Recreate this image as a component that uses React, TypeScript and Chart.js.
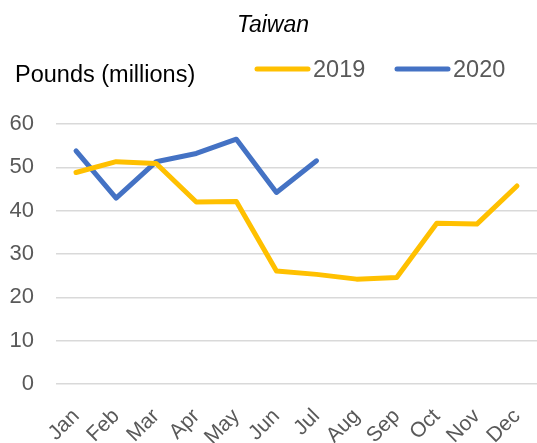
import React, { useEffect, useRef } from "react";
import { Chart, registerables } from "chart.js";

Chart.register(...registerables);

const months = ["Jan", "Feb", "Mar", "Apr", "May", "Jun", "Jul", "Aug", "Sep", "Oct", "Nov", "Dec"];
const series2019 = [48.8, 51.3, 50.9, 42.0, 42.1, 26.1, 25.3, 24.2, 24.6, 37.1, 36.9, 45.7];
const series2020 = [53.8, 42.9, 51.3, 53.2, 56.5, 44.2, 51.5];
const seriesLabels = ["2019", "2020"];
const seriesColors = ["#FFC000", "#4472C4"];
const chartTitle = "Taiwan";
const unitLabel = "Pounds (millions)";

const FONT = '"Liberation Sans", Arial, sans-serif';

const headerPlugin = {
  id: "header",
  afterDraw(chart: any) {
    const ctx = chart.ctx;
    ctx.save();
    ctx.textBaseline = "alphabetic";
    // Title
    ctx.fillStyle = "#000000";
    ctx.font = `italic 23px ${FONT}`;
    ctx.textAlign = "center";
    ctx.fillText(chartTitle, 273, 32);
    // Unit label
    ctx.textAlign = "left";
    ctx.font = `23.5px ${FONT}`;
    ctx.fillText(unitLabel, 15, 82);
    // Legend
    const starts = [255, 395];
    chart.data.datasets.forEach((ds: any, i: number) => {
      const x0 = starts[i];
      ctx.strokeStyle = ds.borderColor;
      ctx.lineWidth = 5;
      ctx.lineCap = "round";
      ctx.beginPath();
      ctx.moveTo(x0 + 2, 69);
      ctx.lineTo(x0 + 53, 69);
      ctx.stroke();
      ctx.fillStyle = "#595959";
      ctx.font = `23.5px ${FONT}`;
      ctx.fillText(ds.label, x0 + 58, 77);
    });
    ctx.restore();
  },
};

export default function App() {
  const ref = useRef<HTMLCanvasElement>(null);
  useEffect(() => {
    if (!ref.current) return;
    const chart = new Chart(ref.current, {
      type: "line",
      data: {
        labels: months,
        datasets: [
          {
            label: seriesLabels[0],
            data: series2019,
            borderColor: seriesColors[0],
            backgroundColor: seriesColors[0],
            borderWidth: 5,
            pointRadius: 0,
            tension: 0,
            borderCapStyle: "round",
            borderJoinStyle: "round",
          },
          {
            label: seriesLabels[1],
            data: series2020,
            borderColor: seriesColors[1],
            backgroundColor: seriesColors[1],
            borderWidth: 5,
            pointRadius: 0,
            tension: 0,
            borderCapStyle: "round",
            borderJoinStyle: "round",
          },
        ],
      },
      options: {
        responsive: false,
        animation: false,
        layout: { padding: { top: 124, right: 0, left: 0, bottom: 0 } },
        plugins: {
          legend: { display: false },
          title: { display: false },
          tooltip: { enabled: false },
        },
        scales: {
          x: {
            offset: true,
            grid: { display: false },
            border: { display: false },
            ticks: {
              autoSkip: false,
              maxRotation: 45,
              minRotation: 45,
              padding: 12,
              color: "#595959",
              font: { family: FONT, size: 21 },
            },
            afterFit: (s: any) => {
              s.height = 59;
              s.paddingLeft = 0;
              s.paddingRight = 0;
            },
          },
          y: {
            min: 0,
            max: 60,
            grid: { color: "#d9d9d9", lineWidth: 1.5, drawTicks: false },
            border: { display: false },
            ticks: {
              stepSize: 10,
              padding: 22,
              color: "#595959",
              font: { family: FONT, size: 22 },
            },
            afterFit: (s: any) => {
              s.width = 56;
            },
          },
        },
      },
      plugins: [headerPlugin],
    });
    return () => chart.destroy();
  }, []);
  return (
    <div style={{ position: "fixed", left: 0, top: 0, width: 537, height: 443, background: "#fff" }}>
      <canvas ref={ref} width={537} height={443} style={{ display: "block" }} />
    </div>
  );
}
